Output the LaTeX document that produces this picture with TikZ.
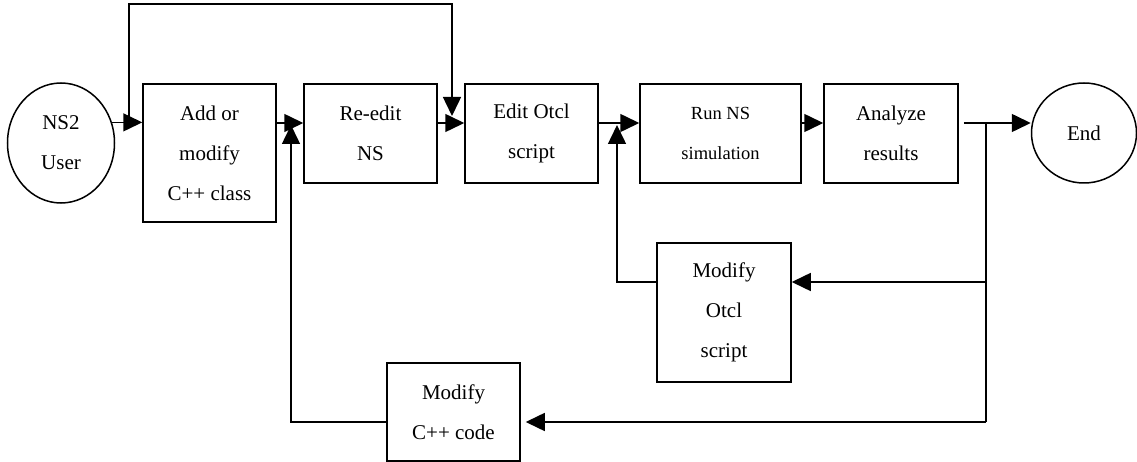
\documentclass[tikz,border=0pt]{standalone}
\usepackage{fontspec}
\setmainfont{Liberation Serif}
\usetikzlibrary{arrows.meta,shapes.geometric}

\begin{document}
\begin{tikzpicture}[
	x=1pt,
	y=-1pt,
	block/.style={
		rectangle,
		draw=black,
		line width=1.5pt,
		align=center,
		inner sep=0pt,
		font=\fontsize{21}{40}\selectfont
	},
	term/.style={
		ellipse,
		draw=black,
		line width=1.5pt,
		align=center,
		inner sep=0pt,
		font=\fontsize{21}{40}\selectfont
	},
	arr/.style={
		line width=1.5pt,
		-{Triangle[length=19pt,width=18pt]}
	},
	wire/.style={
		line width=1.5pt
	},
]

\useasboundingbox (0,0) rectangle (1137,462);

\node[term,minimum width=107pt,minimum height=120pt] (user) at (61,143) {NS2\\User};
\node[block,minimum width=133pt,minimum height=138pt] (addcls) at (209.5,153) {Add or\\modify\\C++ class};
\node[block,minimum width=133pt,minimum height=99pt] (reedit) at (370.5,133.5) {Re-edit\\NS};
\node[block,minimum width=133pt,minimum height=99pt] (editotcl) at (531.5,133.5) {Edit Otcl\\script};
\node[block,minimum width=161pt,minimum height=99pt,font=\fontsize{18.5}{40}\selectfont] (runns) at (720.5,133.5) {Run NS\\simulation};
\node[block,minimum width=134pt,minimum height=99pt] (analyze) at (891,133.5) {Analyze\\results};
\node[term,minimum width=105pt,minimum height=100pt] (endn) at (1084,133) {End};

\node[block,minimum width=134pt,minimum height=139pt] (modotcl) at (724,312.5) {Modify\\Otcl\\script};
\node[block,minimum width=133pt,minimum height=98pt] (modcpp) at (453.5,412) {Modify\\C++ code};

\coordinate (ml) at (0,123);
\coordinate (topl) at (129,4);
\coordinate (topr) at (452,4);
\coordinate (otx) at (617,282);
\coordinate (cpx) at (291,422);
\coordinate (rx) at (986,0);

\draw[arr] (user.22) -- (user.22 -| addcls.west);
\draw[arr] (addcls.east |- ml) -- (reedit.west |- ml);
\draw[arr] (reedit.east |- ml) -- (editotcl.west |- ml);
\draw[arr] (editotcl.east |- ml) -- (runns.west |- ml);
\draw[arr] (runns.east |- ml) -- (analyze.west |- ml);
\draw[arr,shorten <=5pt] (analyze.east |- ml) -- (endn.west |- ml);

\draw[arr,shorten >=7pt] (topl |- user.22) -- (topl) -- (topr) -- (topr |- ml);

\draw[wire] (rx |- ml) -- (rx |- cpx);
\draw[arr] (rx |- otx) -- (modotcl.east |- otx);
\draw[arr,shorten >=5pt] (rx |- cpx) -- (modcpp.east |- cpx);

\draw[arr,shorten >=2pt] (modotcl.west |- otx) -- (otx) -- (otx |- ml);
\draw[arr,shorten >=2pt] (modcpp.west |- cpx) -- (cpx) -- (cpx |- ml);

\end{tikzpicture}
\end{document}
